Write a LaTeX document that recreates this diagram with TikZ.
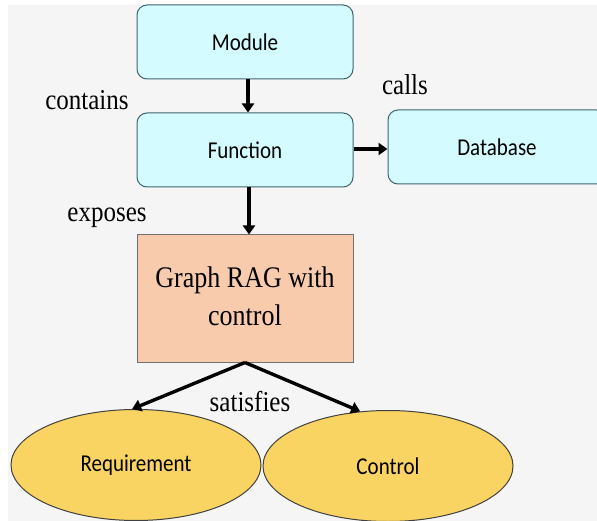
\documentclass[tikz,border=0pt]{standalone}
\usepackage{fontspec}
\usepackage{graphicx}
\setmainfont{Liberation Serif}
\newfontfamily\calibrifont{Carlito}
\usetikzlibrary{arrows.meta,shapes.geometric}

\definecolor{pagebg}{HTML}{F5F5F5}
\definecolor{cyanfill}{HTML}{D4FBFF}
\definecolor{cyanline}{HTML}{3E6470}
\definecolor{peachfill}{HTML}{F8CBAD}
\definecolor{peachline}{HTML}{707070}
\definecolor{goldfill}{HTML}{F9D462}
\definecolor{goldline}{HTML}{404040}

% text is set slightly taller than wide
\newcommand{\tall}[1]{\scalebox{1}[1.15]{#1}}

\tikzset{
  entity/.style={draw=cyanline, fill=cyanfill, line width=1pt,
    rounded corners=10pt, minimum width=216pt, minimum height=74pt,
    inner sep=0pt, font=\calibrifont\fontsize{21}{25}\selectfont},
  ragbox/.style={draw=peachline, fill=peachfill, line width=1pt,
    minimum width=216pt, minimum height=127pt, inner sep=0pt,
    font=\fontsize{26}{33}\selectfont},
  goal/.style={ellipse, draw=goldline, fill=goldfill, line width=1pt,
    minimum width=250pt, minimum height=111pt, inner sep=0pt,
    font=\calibrifont\fontsize{21}{25}\selectfont},
  relation/.style={font=\fontsize{25}{30}\selectfont, inner sep=0pt},
  link/.style={line width=3.4pt, -{Triangle[length=9pt,width=12pt]}}
}

\begin{document}
\begin{tikzpicture}[x=1pt, y=-1pt]
  \clip (0,0) rectangle (597,521);
  \fill[white] (0,0) rectangle (597,521);
  \fill[pagebg] (8,5) rectangle (597,521);

  % entities
  \node[entity] (module)   at (245,42)  {\tall{Module}};
  \node[entity] (function) at (245,150) {\tall{Function}};
  \node[entity, minimum width=218pt] (db) at (497,147) {\tall{Database}};
  \node[ragbox] (rag) at (245,298.5)
    {\tall{\begin{tabular}{@{}c@{}}Graph RAG with\\control\end{tabular}}};
  \node[goal] (req) at (136,465) {\tall{Requirement}};
  \node[goal] (ctl) at (388,466) {\tall{Control}};

  % relation labels
  \node[relation] (lcontains)  at (87,100)  {\tall{contains}};
  \node[relation] (lcalls)     at (405,85)  {\tall{calls}};
  \node[relation] (lexposes)   at (107,218) {\tall{exposes}};
  \node[relation] (lsatisfies) at (250,402) {\tall{satisfies}};

  % connectors
  \draw[link] ([xshift=3pt]module.south) -- ([xshift=3pt]function.north);
  \draw[link] (function.east |- 0,149) -- (db.west |- 0,149);
  \draw[link] ([xshift=4pt]function.south) -- ([xshift=4pt]rag.north);
  \draw[link] (rag.south) -- (req.94);
  \draw[link] (rag.south) -- (ctl.117);
\end{tikzpicture}
\end{document}
